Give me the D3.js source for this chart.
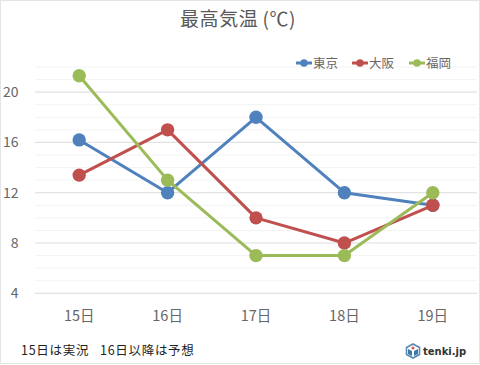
<!DOCTYPE html>
<html>
<head>
<meta charset="utf-8">
<script src="https://cdn.jsdelivr.net/npm/d3@7"></script>
<style>
html, body { margin: 0; padding: 0; background: #fff; }
text { font-family: "Noto Sans CJK JP", "Noto Sans", sans-serif; }
</style>
</head>
<body>
<div id="chart-area"></div>
<script>
// chart data
var days = ["15日", "16日", "17日", "18日", "19日"];
var tokyo = [16.2, 12, 18, 12, 11];
var osaka = [13.4, 17, 10, 8, 11];
var fukuoka = [21.3, 13, 7, 7, 12];
var seriesNames = ["東京", "大阪", "福岡"];
var colors = ["#4f81bd", "#c0504d", "#9bbb59"];
var majorTicks = [4, 8, 12, 16, 20];
var minorTicks = d3.range(4, 23, 1);

var width = 480, height = 365;

var svg = d3.select("#chart-area")
    .append("svg")
        .attr("width", width)
        .attr("height", height)
        .style("display", "block");

// outer frame
svg.append("rect")
    .attr("x", 0.5).attr("y", 0.5)
    .attr("width", width - 1).attr("height", height - 2)
    .attr("fill", "#fff")
    .attr("stroke", "#e4e4e4");

// X Scale
var x = d3.scaleBand()
    .domain(days)
    .range([35, 477]);

// Y Scale
var y = d3.scaleLinear()
    .domain([4, 22])
    .range([293.3, 67]);

// minor grid first, major on top
svg.append("g").selectAll("line")
    .data(minorTicks)
    .enter().append("line")
        .attr("x1", 35).attr("x2", 477)
        .attr("y1", function(d){ return y(d); })
        .attr("y2", function(d){ return y(d); })
        .attr("stroke", "#f3f3f3")
        .attr("stroke-width", 1);

svg.append("g").selectAll("line")
    .data(majorTicks)
    .enter().append("line")
        .attr("x1", 35).attr("x2", 477)
        .attr("y1", function(d){ return y(d); })
        .attr("y2", function(d){ return y(d); })
        .attr("stroke", "#e3e3e3")
        .attr("stroke-width", 1.2);

// Y Axis
var yAxisCall = d3.axisLeft(y).tickValues(majorTicks).tickSize(0);
var yAxisGroup = svg.append("g")
    .attr("transform", "translate(18.5,0)")
    .call(yAxisCall);
yAxisGroup.select(".domain").remove();
yAxisGroup.selectAll("text")
    .attr("x", 0)
    .attr("font-size", "14px")
    .attr("fill", "#666");

// X Axis
var xAxisCall = d3.axisBottom(x).tickSize(0);
var xAxisGroup = svg.append("g")
    .attr("transform", "translate(0,307.5)")
    .call(xAxisCall);
xAxisGroup.select(".domain").remove();
xAxisGroup.selectAll("text")
    .attr("y", 0)
    .attr("dy", "0.95em")
    .attr("font-size", "14.5px")
    .attr("fill", "#666");

var line = d3.line()
    .x(function(d, i){ return x(days[i]) + x.bandwidth() / 2; })
    .y(function(d){ return y(d); });

// lines + markers
[tokyo, osaka, fukuoka].forEach(function(values, s) {
    svg.append("path")
        .attr("d", line(values))
        .attr("fill", "none")
        .attr("stroke", colors[s])
        .attr("stroke-width", 3)
        .attr("stroke-linejoin", "round");
    svg.append("g").selectAll("circle")
        .data(values)
        .enter().append("circle")
            .attr("cx", function(d, i){ return x(days[i]) + x.bandwidth() / 2; })
            .attr("cy", function(d){ return y(d); })
            .attr("r", 6.7)
            .attr("fill", colors[s]);
});

// Title
var title = svg.append("text")
    .attr("x", 180)
    .attr("y", 26)
    .attr("font-size", "19px")
    .attr("letter-spacing", "0.6px")
    .attr("fill", "#595959");
title.append("tspan").text("最高気温");
title.append("tspan").attr("dx", 4).text("(℃)");

// Legend
var legendX = [296, 352, 409];
seriesNames.forEach(function(name, s) {
    var g = svg.append("g").attr("transform", "translate(" + legendX[s] + ",63)");
    g.append("line")
        .attr("x1", 0).attr("x2", 16)
        .attr("stroke", colors[s])
        .attr("stroke-width", 3);
    g.append("circle")
        .attr("cx", 8)
        .attr("r", 3.8)
        .attr("fill", colors[s]);
    g.append("text")
        .attr("x", 17)
        .attr("y", 4.5)
        .attr("font-size", "12.5px")
        .attr("fill", "#666")
        .text(name);
});

// Note
svg.append("text")
    .attr("x", 21)
    .attr("y", 355)
    .attr("font-size", "12.5px")
    .attr("letter-spacing", "0.7px")
    .attr("fill", "#222")
    .text("15日は実況");
svg.append("text")
    .attr("x", 100)
    .attr("y", 355)
    .attr("font-size", "12.5px")
    .attr("letter-spacing", "0.7px")
    .attr("fill", "#222")
    .text("16日以降は予想");

// tenki.jp logo
var logo = svg.append("g").attr("transform", "translate(413,351)");
logo.append("path").attr("d", "M0,-7 L6.5,-3.5 L6.5,3.5 L0,7 L-6.5,3.5 L-6.5,-3.5 Z").attr("fill", "#fff").attr("stroke", "#5b87b5").attr("stroke-width", 1.6);
logo.append("path").attr("d", "M-5,-2 L-1,0 L-1,5 L-5,3 Z").attr("fill", "#3d78ad");
logo.append("path").attr("d", "M5,-2 L1,0 L1,5 L5,3 Z").attr("fill", "#3d78ad");
logo.append("circle").attr("cx", 0).attr("cy", -3).attr("r", 1.5).attr("fill", "#d9534f");
svg.append("text")
    .attr("x", 423)
    .attr("y", 355)
    .style("font-family", "'DejaVu Sans', sans-serif")
    .attr("font-size", "10px")
    .attr("font-weight", "bold")
    .attr("fill", "#333")
    .text("tenki.jp");
</script>
</body>
</html>
